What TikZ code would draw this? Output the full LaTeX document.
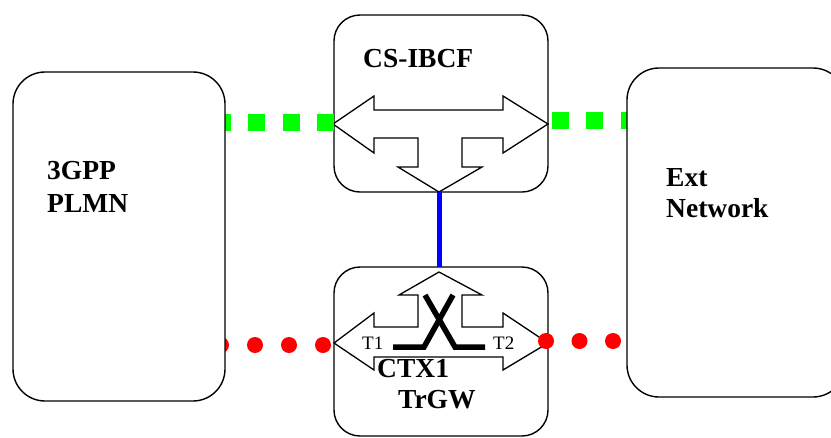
\documentclass[tikz,border=0pt]{standalone}
\usepackage{fontspec}
\setmainfont{Liberation Serif}
\definecolor{pgreen}{RGB}{0,255,0}
\definecolor{pred}{RGB}{255,0,0}
\definecolor{pblue}{RGB}{0,0,255}
\begin{document}
\begin{tikzpicture}[x=1pt,y=-1pt,
  bigbox/.style={draw, line width=1.4pt, fill=white, rounded corners=32pt, inner sep=0pt, outer sep=0pt},
  smallbox/.style={draw, line width=1.4pt, fill=white, rounded corners=26pt, inner sep=0pt, outer sep=0pt},
  arrshape/.style={draw, line width=1.3pt, fill=white, line join=miter},
  gline/.style={draw=pgreen, line width=17pt, dash pattern=on 17pt off 17.3pt},
  rline/.style={draw=pred, line width=16pt, line cap=round, dash pattern=on 0pt off #1},
  bline/.style={draw=pblue, line width=5pt},
  xline/.style={draw, line width=5.5pt, line join=miter},
  lbl/.style={font=\bfseries\fontsize{27.5}{33}\selectfont, anchor=base west, inner sep=0pt},
  tlbl/.style={font=\fontsize{19}{22}\selectfont, anchor=base west, inner sep=0pt}]
\useasboundingbox (0,0) rectangle (831,437);
\clip (0,0) rectangle (831,437);
% central boxes
\node[smallbox, minimum width=214pt, minimum height=177pt] (ibcf) at (441,103.5) {};
\node[smallbox, minimum width=214pt, minimum height=169pt] (trgw) at (441,351.5) {};
% IBCF arrow
\draw[arrshape] (333,124) -- (374,96) -- (374,110) -- (503,110) -- (503,96) -- (548,124)
  -- (503,153) -- (503,138) -- (462,138) -- (462,167) -- (482,167) -- (439,192)
  -- (398,167) -- (418,167) -- (418,138) -- (374,138) -- (374,153) -- cycle;
\coordinate (ibcftip) at (439,192);
% TrGW arrow
\draw[arrshape] (334,343) -- (374,313) -- (374,327) -- (418,327) -- (418,295) -- (399,295)
  -- (439,272) -- (482,295) -- (462,295) -- (462,327) -- (503,327) -- (503,313) -- (548,343)
  -- (503,370) -- (503,357) -- (374,357) -- (374,370) -- cycle;
% cross symbol
\draw[xline] (393,347) -- (424,347) -- (453,295);
\draw[xline] (425,295) -- (455,347) -- (485,347);
% blue connector
\draw[bline] (ibcftip) -- (trgw.north -| ibcftip);
% signalling (green) and bearer (red)
\coordinate (gl1) at (214,122.5);
\coordinate (gl2) at (334,122.5);
\coordinate (gr1) at (552,120.5);
\coordinate (gr2) at (637,120.5);
\coordinate (rl1) at (221,345);
\coordinate (rl2) at (324,345);
\coordinate (rr1) at (546,341);
\coordinate (rr2) at (614,341);
\draw[gline] (gl1) -- (gl2);
\draw[gline] (gr1) -- (gr2);
\draw[rline=34pt] (rl1) -- (rl2);
\draw[rline=33.5pt] (rr1) -- (rr2);
% outer networks
\node[bigbox, minimum width=212pt, minimum height=329pt] (lbox) at (119,236.5) {};
\node[bigbox, minimum width=218pt, minimum height=329pt] (rbox) at (736,232.5) {};
% labels
\node[lbl] (t3gpp) at (47,179) {3GPP};
\node[lbl] (tplmn) at (47,212) {PLMN};
\node[lbl] (text) at (666,186) {Ext};
\node[lbl] (tnet) at (666,217) {Network};
\node[lbl] (tibcf) at (363,67) {CS-IBCF};
\node[lbl] (tctx) at (377,377) {CTX1};
\node[lbl] (ttrgw) at (398,408) {TrGW};
\node[tlbl] (tt1) at (362,349) {T1};
\node[tlbl] (tt2) at (493,349) {T2};
\end{tikzpicture}
\end{document}
